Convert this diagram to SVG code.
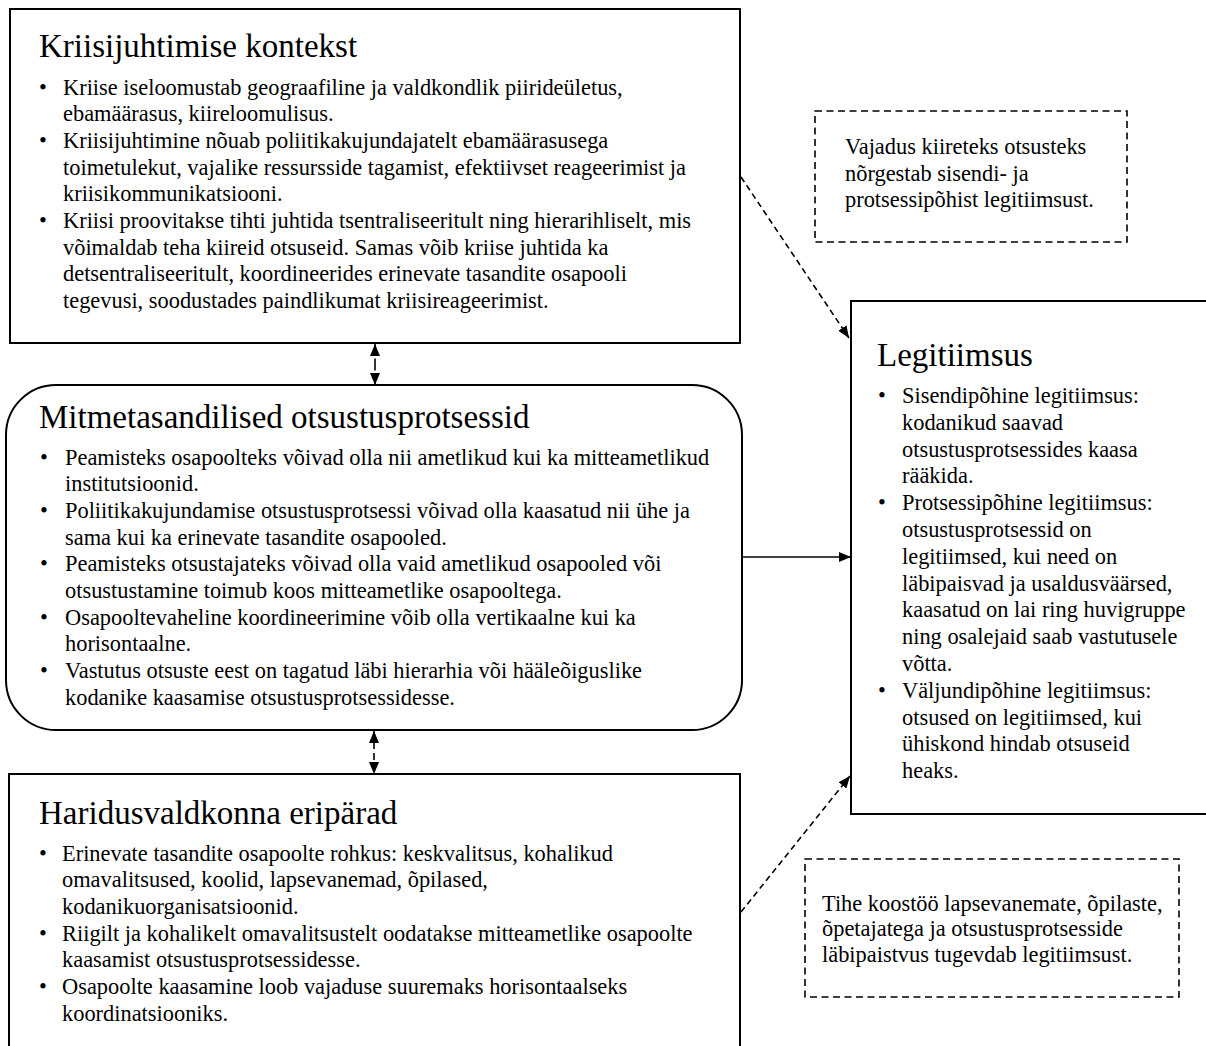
<svg xmlns="http://www.w3.org/2000/svg" width="1206" height="1046" viewBox="0 0 1206 1046">
<style>
text{font-family:"Liberation Serif","Times New Roman",serif;fill:#000}
.t{font-size:33px}
.b{font-size:22.4px}
.box{fill:#fff;stroke:#000;stroke-width:2}
.dbox{fill:#fff;stroke:#000;stroke-width:1.6;stroke-dasharray:7 4.5}
.c{fill:none;stroke:#000;stroke-width:1.6}
.d{stroke-dasharray:6 4}
</style>
<defs>
<marker id="ah" markerUnits="userSpaceOnUse" markerWidth="12" markerHeight="10" refX="12" refY="5" orient="auto-start-reverse" viewBox="0 0 12 10">
<path d="M0,0 L12,5 L0,10 z" fill="#000"/>
</marker>
</defs>
<g id="kriis">
<rect class="box" x="10" y="9" width="730" height="334"/>
<text class="t" x="39" y="56.7">Kriisijuhtimise kontekst</text>
<g class="b">
<text x="39" y="94.5">•</text><text x="63" y="94.5">Kriise iseloomustab geograafiline ja valdkondlik piirideületus,</text>
<text x="63" y="121.2">ebamäärasus, kiireloomulisus.</text>
<text x="39" y="147.9">•</text><text x="63" y="147.9">Kriisijuhtimine nõuab poliitikakujundajatelt ebamäärasusega</text>
<text x="63" y="174.6">toimetulekut, vajalike ressursside tagamist, efektiivset reageerimist ja</text>
<text x="63" y="201.3">kriisikommunikatsiooni.</text>
<text x="39" y="228">•</text><text x="63" y="228">Kriisi proovitakse tihti juhtida tsentraliseeritult ning hierarihliselt, mis</text>
<text x="63" y="254.7">võimaldab teha kiireid otsuseid. Samas võib kriise juhtida ka</text>
<text x="63" y="281.4">detsentraliseeritult, koordineerides erinevate tasandite osapooli</text>
<text x="63" y="308.1">tegevusi, soodustades paindlikumat kriisireageerimist.</text>
</g>
</g>
<g id="mitme">
<rect class="box" x="6" y="385" width="736" height="345" rx="50" ry="50"/>
<text class="t" x="39" y="428">Mitmetasandilised otsustusprotsessid</text>
<g class="b">
<text x="40" y="464.5">•</text><text x="65" y="464.5">Peamisteks osapoolteks võivad olla nii ametlikud kui ka mitteametlikud</text>
<text x="65" y="491.2">institutsioonid.</text>
<text x="40" y="517.9">•</text><text x="65" y="517.9">Poliitikakujundamise otsustusprotsessi võivad olla kaasatud nii ühe ja</text>
<text x="65" y="544.6">sama kui ka erinevate tasandite osapooled.</text>
<text x="40" y="571.3">•</text><text x="65" y="571.3">Peamisteks otsustajateks võivad olla vaid ametlikud osapooled või</text>
<text x="65" y="598">otsustustamine toimub koos mitteametlike osapooltega.</text>
<text x="40" y="624.7">•</text><text x="65" y="624.7">Osapooltevaheline koordineerimine võib olla vertikaalne kui ka</text>
<text x="65" y="651.4">horisontaalne.</text>
<text x="40" y="678.1">•</text><text x="65" y="678.1">Vastutus otsuste eest on tagatud läbi hierarhia või hääleõiguslike</text>
<text x="65" y="704.8">kodanike kaasamise otsustusprotsessidesse.</text>
</g>
</g>
<g id="haridus">
<rect class="box" x="9" y="774" width="731" height="290"/>
<text class="t" x="39" y="824">Haridusvaldkonna eripärad</text>
<g class="b">
<text x="39" y="860.5">•</text><text x="62" y="860.5">Erinevate tasandite osapoolte rohkus: keskvalitsus, kohalikud</text>
<text x="62" y="887.2">omavalitsused, koolid, lapsevanemad, õpilased,</text>
<text x="62" y="913.9">kodanikuorganisatsioonid.</text>
<text x="39" y="940.6">•</text><text x="62" y="940.6">Riigilt ja kohalikelt omavalitsustelt oodatakse mitteametlike osapoolte</text>
<text x="62" y="967.3">kaasamist otsustusprotsessidesse.</text>
<text x="39" y="994">•</text><text x="62" y="994">Osapoolte kaasamine loob vajaduse suuremaks horisontaalseks</text>
<text x="62" y="1020.7">koordinatsiooniks.</text>
</g>
</g>
<g id="legitiimsus">
<rect class="box" x="851" y="301" width="370" height="513"/>
<text class="t" x="877" y="366">Legitiimsus</text>
<g class="b">
<text x="878" y="403">•</text><text x="902" y="403">Sisendipõhine legitiimsus:</text>
<text x="902" y="429.8">kodanikud saavad</text>
<text x="902" y="456.6">otsustusprotsessides kaasa</text>
<text x="902" y="483.4">rääkida.</text>
<text x="878" y="510.2">•</text><text x="902" y="510.2">Protsessipõhine legitiimsus:</text>
<text x="902" y="537">otsustusprotsessid on</text>
<text x="902" y="563.8">legitiimsed, kui need on</text>
<text x="902" y="590.6">läbipaisvad ja usaldusväärsed,</text>
<text x="902" y="617.4">kaasatud on lai ring huvigruppe</text>
<text x="902" y="644.2">ning osalejaid saab vastutusele</text>
<text x="902" y="671">võtta.</text>
<text x="878" y="697.8">•</text><text x="902" y="697.8">Väljundipõhine legitiimsus:</text>
<text x="902" y="724.6">otsused on legitiimsed, kui</text>
<text x="902" y="751.4">ühiskond hindab otsuseid</text>
<text x="902" y="778.2">heaks.</text>
</g>
</g>
<g id="markus1">
<rect class="dbox" x="815" y="111" width="312" height="131"/>
<g class="b">
<text x="845" y="154">Vajadus kiireteks otsusteks</text>
<text x="845" y="180.5">nõrgestab sisendi- ja</text>
<text x="845" y="207">protsessipõhist legitiimsust.</text>
</g>
</g>
<g id="markus2">
<rect class="dbox" x="805" y="859" width="374" height="138"/>
<g class="b">
<text x="822" y="910.5">Tihe koostöö lapsevanemate, õpilaste,</text>
<text x="822" y="936">õpetajatega ja otsustusprotsesside</text>
<text x="822" y="962">läbipaistvus tugevdab legitiimsust.</text>
</g>
</g>
<g id="connectors">
<line class="c" x1="375" y1="344" x2="375" y2="385" stroke-dasharray="12 2.5 12 2.5 13" marker-start="url(#ah)" marker-end="url(#ah)"/>
<line class="c" x1="374" y1="731" x2="374" y2="774" stroke-dasharray="7 4" marker-start="url(#ah)" marker-end="url(#ah)"/>
<line class="c" x1="742" y1="557" x2="851" y2="557" marker-end="url(#ah)"/>
<line class="c d" x1="741" y1="177" x2="849" y2="338" marker-end="url(#ah)"/>
<line class="c d" x1="741" y1="912" x2="850" y2="776" marker-end="url(#ah)"/>
</g>
</svg>
